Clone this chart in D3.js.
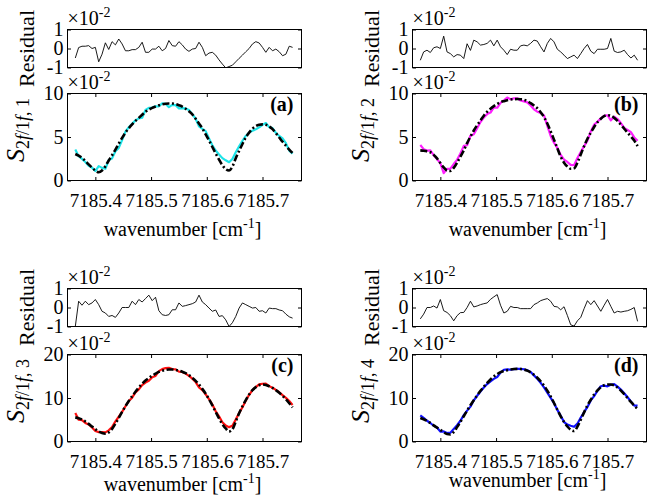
<!DOCTYPE html>
<html>
<head>
<meta charset="utf-8">
<script src="https://cdn.jsdelivr.net/npm/d3@7"></script>
<style>
body { margin: 0; background: #ffffff; }
svg { display: block; }
</style>
</head>
<body>
<div class="figdiv"></div>
<script>
//wavenumber grid shared by every panel [cm-1]
var wavenumber = [
    7185.364, 7185.370, 7185.376, 7185.382, 7185.388, 7185.394, 7185.400, 7185.406, 7185.412, 7185.418,
    7185.424, 7185.430, 7185.436, 7185.442, 7185.448, 7185.454, 7185.460, 7185.466, 7185.472, 7185.478,
    7185.484, 7185.490, 7185.496, 7185.502, 7185.508, 7185.514, 7185.520, 7185.526, 7185.532, 7185.538,
    7185.544, 7185.550, 7185.556, 7185.562, 7185.568, 7185.574, 7185.580, 7185.586, 7185.592, 7185.598,
    7185.604, 7185.610, 7185.616, 7185.622, 7185.628, 7185.634, 7185.640, 7185.646, 7185.652, 7185.658,
    7185.664, 7185.670, 7185.676, 7185.682, 7185.688, 7185.694, 7185.700, 7185.706, 7185.712, 7185.718,
    7185.724, 7185.730, 7185.736, 7185.742, 7185.748, 7185.754];

var xTicks = [7185.4, 7185.5, 7185.6, 7185.7];
var residualTicks = [-1, 0, 1];
var signalTicksTop = [0, 5, 10];
var signalTicksBottom = [0, 10, 20];

//panel (a), values in units of 1e-2
var residualA = [
    -0.50, 0.05, 0.12, 0.12, 0.15, 0.00, 0.06, -0.70, -0.30, 0.30,
    -0.05, 0.36, 0.19, 0.50, 0.24, -0.12, -0.12, -0.06, -0.06, 0.06,
    0.33, -0.20, -0.20, -0.03, -0.03, 0.12, -0.12, 0.00, 0.42, 0.15,
    0.12, 0.36, 0.19, -0.03, -0.15, -0.03, 0.00, 0.33, 0.06, -0.38,
    -0.24, -0.20, -0.35, -0.60, -0.82, -1.02, -0.95, -0.88, -0.70, -0.52,
    -0.35, -0.17, 0.00, 0.24, 0.36, 0.29, 0.06, -0.20, 0.06, -0.12,
    -0.03, -0.17, -0.38, -0.30, 0.12, 0.06];
var fitA = [
    3.05, 2.85, 2.60, 2.25, 1.85, 1.48, 1.15, 0.95, 1.15, 1.65,
    2.30, 2.90, 3.55, 4.25, 4.90, 5.50, 6.00, 6.45, 6.85, 7.20,
    7.55, 7.90, 8.15, 8.35, 8.50, 8.65, 8.75, 8.82, 8.85, 8.85,
    8.78, 8.65, 8.50, 8.25, 7.95, 7.60, 7.10, 6.55, 6.00, 5.30,
    4.60, 3.85, 3.10, 2.40, 1.75, 1.30, 1.15, 1.60, 2.55, 3.40,
    4.20, 4.95, 5.50, 5.95, 6.25, 6.40, 6.45, 6.40, 6.20, 5.90,
    5.45, 4.95, 4.45, 4.00, 3.55, 3.15];
var measA = [
    3.55, 2.80, 2.48, 2.13, 1.70, 1.48, 1.09, 1.65, 1.45, 1.35,
    2.35, 2.54, 3.36, 3.75, 4.66, 5.62, 6.12, 6.51, 6.91, 7.14,
    7.22, 8.10, 8.35, 8.38, 8.53, 8.53, 8.87, 8.82, 8.43, 8.70,
    8.66, 8.29, 8.31, 8.28, 8.10, 7.63, 7.10, 6.22, 5.94, 5.68,
    4.84, 4.05, 3.45, 3.00, 2.57, 2.32, 2.10, 2.48, 3.25, 3.92,
    4.55, 5.12, 5.50, 5.71, 5.89, 6.11, 6.39, 6.60, 6.14, 6.02,
    5.48, 5.12, 4.83, 4.30, 3.43, 3.09];

//panel (b)
var residualB = [
    -0.62, -0.18, -0.09, -0.21, 0.04, 0.09, 0.00, 0.65, -0.18, -0.27,
    -0.44, -0.32, -0.35, -0.53, 0.25, -0.10, 0.44, 0.35, 0.18, 0.21,
    0.27, 0.44, 0.14, 0.44, 0.09, -0.09, -0.32, -0.04, -0.09, -0.09,
    0.14, 0.18, 0.14, 0.27, 0.44, 0.39, 0.09, -0.18, 0.27, 0.53,
    0.35, -0.04, -0.18, -0.35, -0.53, -0.44, -0.35, -0.53, -0.27, 0.00,
    0.21, -0.14, -0.27, -0.04, -0.04, -0.04, 0.00, 0.53, -0.14, -0.21,
    -0.18, -0.09, -0.32, -0.50, -0.35, -0.62];
var fitB = [
    3.46, 3.42, 3.35, 3.25, 2.95, 2.55, 2.00, 1.50, 1.15, 1.10,
    1.45, 2.05, 2.75, 3.45, 4.30, 5.05, 5.75, 6.35, 6.90, 7.45,
    7.90, 8.25, 8.55, 8.80, 9.00, 9.12, 9.22, 9.30, 9.35, 9.36,
    9.34, 9.28, 9.12, 8.90, 8.62, 8.30, 7.85, 7.30, 6.55, 5.65,
    4.70, 3.70, 2.75, 2.05, 1.60, 1.35, 1.40, 2.05, 3.00, 3.95,
    4.80, 5.50, 6.15, 6.70, 7.10, 7.40, 7.50, 7.45, 7.20, 6.85,
    6.42, 5.95, 5.50, 5.05, 4.60, 3.95];
var measB = [
    4.08, 3.60, 3.44, 3.46, 2.91, 2.46, 2.00, 0.85, 1.33, 1.37,
    1.89, 2.37, 3.10, 3.98, 4.05, 5.15, 5.31, 6.00, 6.72, 7.24,
    7.63, 7.81, 8.41, 8.36, 8.91, 9.21, 9.54, 9.34, 9.44, 9.45,
    9.20, 9.10, 8.98, 8.63, 8.18, 7.91, 7.76, 7.48, 6.28, 5.12,
    4.35, 3.74, 2.93, 2.40, 2.13, 1.79, 1.75, 2.58, 3.27, 3.95,
    4.59, 5.64, 6.42, 6.74, 7.14, 7.44, 7.50, 6.92, 7.34, 7.06,
    6.60, 6.04, 5.82, 5.55, 4.95, 4.57];

//panel (c)
var residualC = [
    -1.00, 0.33, 0.12, 0.33, 0.15, 0.24, 0.42, 0.15, -0.20, -0.29,
    -0.47, -0.42, -0.52, -0.29, 0.00, 0.00, 0.00, 0.33, 0.15, 0.42,
    0.29, 0.47, 0.65, 0.36, 0.54, -0.17, -0.38, -0.42, -0.38, -0.12,
    -0.12, 0.24, 0.06, 0.10, 0.15, 0.20, 0.29, 0.65, 0.29, 0.15,
    -0.03, -0.20, -0.13, -0.47, -0.43, -0.65, -1.00, -0.80, -0.47, -0.03,
    0.24, 0.15, 0.06, -0.03, 0.00, -0.20, -0.17, -0.29, -0.03, -0.06,
    -0.06, -0.13, -0.17, -0.35, -0.49, -0.56];
var fitC = [
    5.55, 5.35, 5.05, 4.60, 4.05, 3.45, 2.85, 2.30, 1.95, 1.80,
    2.10, 2.90, 4.10, 5.40, 6.80, 8.10, 9.30, 10.40, 11.45, 12.40,
    13.25, 14.00, 14.60, 15.15, 15.60, 16.00, 16.25, 16.45, 16.55, 16.55,
    16.45, 16.30, 16.05, 15.70, 15.25, 14.65, 13.95, 13.10, 12.10, 11.00,
    9.70, 8.30, 6.80, 5.30, 4.00, 3.00, 2.30, 2.80, 4.60, 6.50,
    8.10, 9.50, 10.80, 11.80, 12.50, 12.95, 13.10, 13.00, 12.70, 12.30,
    11.80, 11.20, 10.50, 9.70, 8.80, 7.85];
var measC = [
    6.55, 5.02, 4.93, 4.27, 3.90, 3.21, 2.43, 2.15, 2.15, 2.09,
    2.57, 3.32, 4.62, 5.69, 6.80, 8.10, 9.30, 10.07, 11.30, 11.98,
    12.96, 13.53, 13.95, 14.79, 15.06, 16.17, 16.63, 16.87, 16.93, 16.67,
    16.57, 16.06, 15.99, 15.60, 15.10, 14.45, 13.66, 12.45, 11.81, 10.85,
    9.73, 8.50, 6.93, 5.77, 4.43, 3.65, 3.30, 3.60, 5.07, 6.53,
    7.86, 9.35, 10.74, 11.83, 12.50, 13.15, 13.27, 13.29, 12.73, 12.36,
    11.86, 11.33, 10.67, 10.05, 9.29, 8.41];

//panel (d)
var residualD = [
    -0.60, -0.35, 0.00, 0.00, 0.08, -0.03, 0.42, -0.17, -0.26, -0.43,
    -0.70, -0.43, -0.27, -0.26, 0.00, 0.33, 0.03, 0.08, 0.15, 0.20,
    0.24, 0.43, 0.56, 0.68, 0.12, -0.29, -0.20, 0.06, 0.00, 0.00,
    -0.06, -0.06, -0.06, -0.06, 0.15, 0.24, 0.36, 0.42, 0.47, 0.33,
    0.06, 0.03, -0.12, 0.04, -0.42, -0.91, -0.98, -0.70, -0.52, -0.06,
    0.36, 0.15, 0.36, 0.08, -0.20, 0.12, 0.42, 0.06, -0.29, -0.20,
    -0.24, -0.20, -0.17, -0.10, 0.00, -0.73];
var fitD = [
    5.40, 5.10, 4.77, 4.25, 3.70, 3.20, 2.70, 2.15, 1.70, 1.60,
    2.20, 3.30, 4.50, 5.80, 7.10, 8.35, 9.50, 10.60, 11.65, 12.60,
    13.45, 14.25, 14.95, 15.50, 15.95, 16.20, 16.40, 16.55, 16.65, 16.70,
    16.65, 16.55, 16.30, 15.90, 15.35, 14.65, 13.85, 12.85, 11.70, 10.35,
    8.85, 7.30, 5.80, 4.50, 3.45, 2.70, 2.40, 3.40, 5.00, 6.70,
    8.30, 9.60, 10.80, 11.75, 12.50, 12.95, 13.10, 13.10, 12.90, 12.40,
    11.70, 10.90, 10.00, 9.10, 8.25, 7.50];
var measD = [
    6.00, 5.45, 4.77, 4.25, 3.62, 3.23, 2.28, 2.32, 1.96, 2.03,
    2.90, 3.73, 4.77, 6.06, 7.10, 8.02, 9.47, 10.52, 11.50, 12.40,
    13.21, 13.82, 14.39, 14.82, 15.83, 16.49, 16.60, 16.49, 16.65, 16.70,
    16.71, 16.61, 16.36, 15.96, 15.20, 14.41, 13.49, 12.43, 11.23, 10.02,
    8.79, 7.27, 5.92, 4.46, 3.87, 3.61, 3.38, 4.10, 5.52, 6.76,
    7.94, 9.45, 10.44, 11.67, 12.70, 12.83, 12.68, 13.04, 13.19, 12.60,
    11.94, 11.10, 10.17, 9.20, 8.25, 8.23];

var panelNames = ["(a)", "(b)", "(c)", "(d)"];
var harmonicIndex = ["1", "2", "3", "4"];
var measColors = ["#1ee4e8", "#ff1eff", "#ff1010", "#1010ff"];

//figure frame
var figWidth = 647,
    figHeight = 502;
var xDomain = [7185.35, 7185.77];
var boxWidth = 234,
    resHeight = 38,
    mainHeight = 87,
    tickLen = 3.5;
var serif = "Liberation Serif";

var svg = d3.select("div.figdiv")
    .append("svg")
    .attr("width", figWidth)
    .attr("height", figHeight);

//one entry per subplot
var panels = [
    {res: residualA, fit: fitA, meas: measA, yMax: 10, yTicks: signalTicksTop, x0: 67.5, resTop: 29.5, mainTop: 93.5, xLabelY: 236},
    {res: residualB, fit: fitB, meas: measB, yMax: 10, yTicks: signalTicksTop, x0: 412.5, resTop: 29.5, mainTop: 93.5, xLabelY: 236},
    {res: residualC, fit: fitC, meas: measC, yMax: 20, yTicks: signalTicksBottom, x0: 67.5, resTop: 288.5, mainTop: 354.5, xLabelY: 491},
    {res: residualD, fit: fitD, meas: measD, yMax: 20, yTicks: signalTicksBottom, x0: 412.5, resTop: 288.5, mainTop: 354.5, xLabelY: 487}
];

panels.forEach(function(p, i){
    drawPanel(p, i);
});

//single font name, set on every text element
svg.selectAll("text")
    .attr("font-family", serif)
    .style("font-family", serif)
    .attr("fill", "#000");

function styleAxis(g, size){
    g.attr("font-family", serif).attr("font-size", size || 20);
    g.select(".domain").remove();
    g.selectAll(".tick line").attr("stroke", "#000").attr("stroke-width", 1);
}

function drawAxes(x, y, top, height, yTicks, yFmt, xLabels){
    var left = x.range()[0], right = x.range()[1];

    var gl = svg.append("g").attr("transform", "translate(" + left + ",0)")
        .call(d3.axisLeft(y).tickValues(yTicks).tickSize(-tickLen).tickPadding(4).tickFormat(yFmt));
    styleAxis(gl);
    var gr = svg.append("g").attr("transform", "translate(" + right + ",0)")
        .call(d3.axisRight(y).tickValues(yTicks).tickSize(-tickLen).tickFormat(""));
    styleAxis(gr);

    if (xLabels) {
        var gb = svg.append("g").attr("transform", "translate(0," + (top + height) + ")")
            .call(d3.axisBottom(x).tickValues(xTicks).tickSize(-tickLen).tickPadding(13).tickFormat(d3.format(".1f")));
        styleAxis(gb, 19);
        var gt = svg.append("g").attr("transform", "translate(0," + top + ")")
            .call(d3.axisTop(x).tickValues(xTicks).tickSize(-tickLen).tickFormat(""));
        styleAxis(gt);
    }

    //box
    svg.append("rect")
        .attr("x", left)
        .attr("y", top)
        .attr("width", right - left)
        .attr("height", height)
        .attr("fill", "none")
        .attr("stroke", "#000")
        .attr("stroke-width", 1);
}

function addExponent(x0, top){
    var t = svg.append("text")
        .attr("x", x0)
        .attr("y", top - 5)
        .attr("font-size", 20);
    t.append("tspan").text("\u00d710");
    t.append("tspan").attr("font-size", 14).attr("dy", -8).text("-2");
}

function drawPanel(p, i){
    var x = d3.scaleLinear().domain(xDomain).range([p.x0, p.x0 + boxWidth]);
    var yRes = d3.scaleLinear().domain([-1, 1]).range([p.resTop + resHeight, p.resTop]);
    var ySig = d3.scaleLinear().domain([0, p.yMax]).range([p.mainTop + mainHeight, p.mainTop]);

    //clip regions
    var defs = svg.append("defs");
    defs.append("clipPath").attr("id", "clipRes" + i)
        .append("rect").attr("x", p.x0).attr("y", p.resTop).attr("width", boxWidth).attr("height", resHeight);
    defs.append("clipPath").attr("id", "clipMain" + i)
        .append("rect").attr("x", p.x0).attr("y", p.mainTop).attr("width", boxWidth).attr("height", mainHeight);

    //residual subplot
    var resLine = d3.line()
        .x(function(d, k){ return x(wavenumber[k]); })
        .y(function(d){ return yRes(d); });
    svg.append("path")
        .datum(p.res)
        .attr("clip-path", "url(#clipRes" + i + ")")
        .attr("d", resLine)
        .attr("fill", "none")
        .attr("stroke", "#000")
        .attr("stroke-width", 0.9);
    drawAxes(x, yRes, p.resTop, resHeight, residualTicks, function(d){ return String(d); }, false);
    addExponent(p.x0, p.resTop);

    svg.append("text")
        .attr("transform", "translate(" + (p.x0 - 34) + "," + (p.resTop + resHeight / 2) + ") rotate(-90)")
        .attr("text-anchor", "middle")
        .attr("font-size", 22)
        .text("Residual");

    //signal subplot: measured then fit on top
    var sigLine = d3.line()
        .x(function(d, k){ return x(wavenumber[k]); })
        .y(function(d){ return ySig(d); });
    var plot = svg.append("g").attr("clip-path", "url(#clipMain" + i + ")");
    plot.append("path")
        .datum(p.meas)
        .attr("d", sigLine)
        .attr("fill", "none")
        .attr("stroke", measColors[i])
        .attr("stroke-width", 2.2)
        .attr("stroke-linejoin", "round");
    plot.append("path")
        .datum(p.fit)
        .attr("d", sigLine.curve(d3.curveMonotoneX))
        .attr("fill", "none")
        .attr("stroke", "#000")
        .attr("stroke-width", 2.6)
        .attr("stroke-dasharray", "7,2.5,2,2.5");
    drawAxes(x, ySig, p.mainTop, mainHeight, p.yTicks, function(d){ return String(d); }, true);
    addExponent(p.x0, p.mainTop);

    //panel letter
    svg.append("text")
        .attr("x", p.x0 + boxWidth - 8)
        .attr("y", p.mainTop + 17)
        .attr("text-anchor", "end")
        .attr("font-size", 20)
        .attr("font-weight", "bold")
        .text(panelNames[i]);

    //y label S_{2f/1f, n}
    var ylab = svg.append("text")
        .attr("transform", "translate(" + (p.x0 - 44) + "," + (p.mainTop + mainHeight / 2 - 7) + ") rotate(-90)")
        .attr("text-anchor", "middle")
        .attr("font-size", 26);
    ylab.append("tspan").attr("font-style", "italic").text("S");
    var sub = [["2", false], ["f", true], ["/1", false], ["f", true], [", " + harmonicIndex[i], false]];
    sub.forEach(function(s, k){
        var ts = ylab.append("tspan")
            .attr("font-size", 18)
            .attr("font-style", s[1] ? "italic" : "normal")
            .text(s[0]);
        if (k == 0) ts.attr("dy", 5);
    });

    //x label
    var xlab = svg.append("text")
        .attr("x", p.x0 + boxWidth / 2 - 2)
        .attr("y", p.xLabelY)
        .attr("text-anchor", "middle")
        .attr("font-size", 20);
    xlab.append("tspan").text("wavenumber [cm");
    xlab.append("tspan").attr("font-size", 14).attr("dy", -8).text("-1");
    xlab.append("tspan").attr("dy", 8).text("]");
}
</script>
</body>
</html>
